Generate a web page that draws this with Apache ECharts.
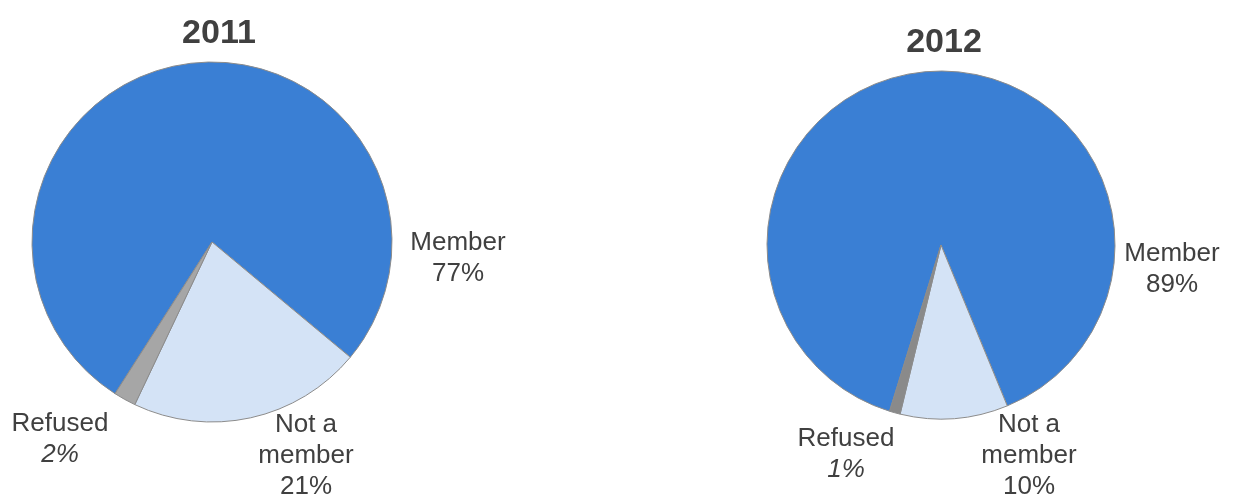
<!DOCTYPE html>
<html>
<head>
<meta charset="utf-8">
<script src="https://cdn.jsdelivr.net/npm/echarts@6/dist/echarts.min.js"></script>
<style>
  html, body { margin: 0; padding: 0; background: #fff; }
  #chart { width: 1237px; height: 497px; }
</style>
</head>
<body>
<div id="chart"></div>
<script>
// data
var years = ['2011', '2012']
var categories = ['Member', 'Not a member', 'Refused']
var labelNames = ['Member', 'Not a\nmember', 'Refused']
var values2011 = [77, 21, 2]
var values2012 = [89, 10, 1]

// layout (label centres per pie, in px)
var labelPos = [
  [[458, 258], [306, 456], [60, 439]],
  [[1172, 269], [1029, 456], [846, 454]]
]
var refusedColors = ['#a6a6a6', '#8a8a8a']
var FONT = 'Liberation Sans, Arial, sans-serif'

var chart = echarts.init(document.getElementById('chart'))

function makeSeries (idx, values, center, radius, startAngle) {
  return {
    type: 'pie',
    center: center,
    radius: radius,
    startAngle: startAngle,
    clockwise: true,
    animation: false,
    silent: true,
    itemStyle: { borderColor: '#8c8c8c', borderWidth: 1 },
    labelLine: { show: false },
    label: {
      show: true,
      position: 'outside',
      overflow: 'none',
      fontFamily: FONT,
      fontSize: 26,
      color: '#404040',
      lineHeight: 31,
      align: 'center',
      formatter: function (p) {
        var pct = p.value + '%'
        if (p.dataIndex === 2) return labelNames[2] + '\n{i|' + pct + '}'
        return labelNames[p.dataIndex] + '\n' + pct
      },
      rich: {
        i: { fontStyle: 'italic', fontSize: 26, lineHeight: 31, color: '#404040', fontFamily: FONT }
      }
    },
    labelLayout: function (params) {
      var pos = labelPos[idx][params.dataIndex]
      return { x: pos[0], y: pos[1], align: 'center', verticalAlign: 'middle' }
    },
    data: values.map(function (v, i) {
      return {
        name: categories[i],
        value: v,
        itemStyle: { color: ['#3a7fd4', '#d4e3f6', refusedColors[idx]][i] }
      }
    })
  }
}

chart.setOption({
  backgroundColor: '#fff',
  title: [
    {
      text: years[0],
      left: 214,
      top: 12,
      textAlign: 'center',
      textStyle: { fontSize: 34, fontWeight: 'bold', color: '#404040', fontFamily: FONT }
    },
    {
      text: years[1],
      left: 939,
      top: 21,
      textAlign: 'center',
      textStyle: { fontSize: 34, fontWeight: 'bold', color: '#404040', fontFamily: FONT }
    }
  ],
  series: [
    makeSeries(0, values2011, [212, 242], 180, 237.4),
    makeSeries(1, values2012, [941, 245], 174, 252.8)
  ]
})
</script>
</body>
</html>
